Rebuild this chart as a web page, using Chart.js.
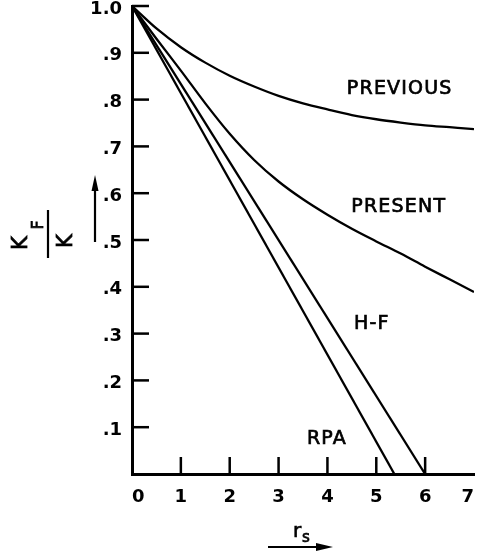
<!DOCTYPE html>
<html>
<head>
<meta charset="utf-8">
<script src="https://cdn.jsdelivr.net/npm/chart.js@4.4.0/dist/chart.umd.min.js"></script>
<style>
  html, body { margin: 0; padding: 0; background: #fff; }
  #wrap { width: 481px; height: 556px; }
</style>
</head>
<body>
<div id="wrap"><canvas id="chart"></canvas></div>
<script>
// r_s sample points for the two curves
const rsPoints = [0, 0.5, 1, 1.5, 2, 2.5, 3, 3.5, 4, 4.5, 5, 5.5, 6, 6.5, 7];
const previous = [1.0, 0.952, 0.912, 0.879, 0.851, 0.828, 0.808, 0.792, 0.779, 0.767, 0.758, 0.751, 0.745, 0.741, 0.737];
const present = [1.0, 0.93, 0.862, 0.792, 0.727, 0.671, 0.625, 0.587, 0.554, 0.524, 0.497, 0.471, 0.443, 0.416, 0.389];

// straight lines
const hfX = [0, 6.0];
const hfY = [1, 0];
const rpaX = [0, 5.37];
const rpaY = [1, 0];

const xTicks = [0, 1, 2, 3, 4, 5, 6, 7];
const yTicks = [0.1, 0.2, 0.3, 0.4, 0.5, 0.6, 0.7, 0.8, 0.9, 1.0];

// curve labels, in data units
const labelText = ["PREVIOUS", "PRESENT", "H-F", "RPA"];
const labelX = [5.48, 5.46, 4.91, 3.99];
const labelY = [0.823, 0.571, 0.321, 0.075];

const font = "'DejaVu Sans', sans-serif";

const toPoints = (xs, ys) => xs.map((x, i) => ({ x: x, y: ys[i] }));

const line = (data, smooth) => ({
  data: data,
  borderColor: '#000',
  borderWidth: 2.3,
  pointRadius: 0,
  cubicInterpolationMode: smooth ? 'monotone' : 'default',
  tension: 0,
  fill: false,
});

// draw text a bit heavier, like the lettering in the original
const heavyText = (ctx, t, x, y, w) => {
  ctx.lineWidth = w;
  ctx.fillText(t, x, y);
  ctx.strokeText(t, x, y);
};

// inner ticks, curve labels and axis titles
const extras = {
  id: 'extras',
  afterDraw(chart) {
    const ctx = chart.ctx;
    const xs = chart.scales.x;
    const ys = chart.scales.y;
    const left = chart.chartArea.left;
    const bottom = chart.chartArea.bottom;
    ctx.save();
    ctx.strokeStyle = '#000';
    ctx.fillStyle = '#000';
    ctx.lineWidth = 2.5;
    ctx.lineCap = 'butt';

    yTicks.forEach(v => {
      const py = ys.getPixelForValue(v);
      ctx.beginPath();
      ctx.moveTo(left, py);
      ctx.lineTo(left + 17, py);
      ctx.stroke();
    });
    xTicks.slice(1, -1).forEach(v => {
      const px = xs.getPixelForValue(v);
      ctx.beginPath();
      ctx.moveTo(px, bottom);
      ctx.lineTo(px, bottom - 17);
      ctx.stroke();
    });

    ctx.font = '19px ' + font;
    ctx.letterSpacing = '1.2px';
    ctx.textAlign = 'center';
    ctx.textBaseline = 'middle';
    labelText.forEach((t, i) => {
      heavyText(ctx, t, xs.getPixelForValue(labelX[i]), ys.getPixelForValue(labelY[i]), 0.7);
    });
    ctx.letterSpacing = '0px';

    // y title: K_F / K, rotated
    ctx.save();
    ctx.translate(48, 234);
    ctx.rotate(-Math.PI / 2);
    ctx.textBaseline = 'alphabetic';
    ctx.font = '21px ' + font;
    heavyText(ctx, 'K', -9, -21, 0.8);
    ctx.font = '15px ' + font;
    heavyText(ctx, 'F', 9, -5, 0.8);
    ctx.font = '21px ' + font;
    heavyText(ctx, 'K', -7, 24, 0.8);
    ctx.lineWidth = 2.2;
    ctx.beginPath();
    ctx.moveTo(-24, 0);
    ctx.lineTo(24, 0);
    ctx.stroke();
    ctx.restore();

    // up arrow
    ctx.lineWidth = 2.2;
    ctx.beginPath();
    ctx.moveTo(95, 242);
    ctx.lineTo(95, 186);
    ctx.stroke();
    ctx.beginPath();
    ctx.moveTo(95, 175);
    ctx.lineTo(91.5, 191);
    ctx.lineTo(98.5, 191);
    ctx.closePath();
    ctx.fill();

    // x title: r_s and arrow
    ctx.textAlign = 'center';
    ctx.textBaseline = 'alphabetic';
    ctx.font = '20px ' + font;
    heavyText(ctx, 'r', 297, 537, 0.7);
    ctx.font = '15px ' + font;
    heavyText(ctx, 's', 306, 542, 0.7);
    ctx.lineWidth = 2.2;
    ctx.beginPath();
    ctx.moveTo(268, 547);
    ctx.lineTo(320, 547);
    ctx.stroke();
    ctx.beginPath();
    ctx.moveTo(333, 547);
    ctx.lineTo(316, 543);
    ctx.lineTo(316, 551);
    ctx.closePath();
    ctx.fill();
    ctx.restore();
  }
};

new Chart(document.getElementById('chart'), {
  type: 'line',
  data: {
    datasets: [
      line(toPoints(rsPoints, previous), true),
      line(toPoints(rsPoints, present), true),
      line(toPoints(hfX, hfY), false),
      line(toPoints(rpaX, rpaY), false),
    ],
  },
  options: {
    responsive: true,
    maintainAspectRatio: false,
    animation: false,
    layout: { padding: { top: 6, right: 7, bottom: 0, left: 0 } },
    plugins: {
      legend: { display: false },
      tooltip: { enabled: false },
    },
    scales: {
      x: {
        type: 'linear',
        min: 0,
        max: 7,
        grid: { display: false, drawTicks: false },
        border: { display: true, color: '#000', width: 3 },
        ticks: {
          stepSize: 1,
          padding: 13,
          align: 'inner',
          color: '#000',
          font: { size: 18, family: font, weight: 'bold' },
          callback: v => String(v),
        },
        afterFit: s => { s.height = 82; s.paddingLeft = 0; s.paddingRight = 0; },
      },
      y: {
        min: 0,
        max: 1,
        grid: { display: false, drawTicks: false },
        border: { display: true, color: '#000', width: 3 },
        ticks: {
          stepSize: 0.1,
          padding: 10,
          labelOffset: 3,
          color: '#000',
          font: { size: 18, family: font, weight: 'bold' },
          callback: v => {
            const r = Math.round(v * 10) / 10;
            if (r === 0) return '';
            if (r === 1) return '1.0';
            return '.' + Math.round(r * 10);
          },
        },
        afterFit: s => { s.width = 132; s.paddingTop = 0; s.paddingBottom = 0; },
      },
    },
  },
  plugins: [extras],
});
</script>
</body>
</html>
